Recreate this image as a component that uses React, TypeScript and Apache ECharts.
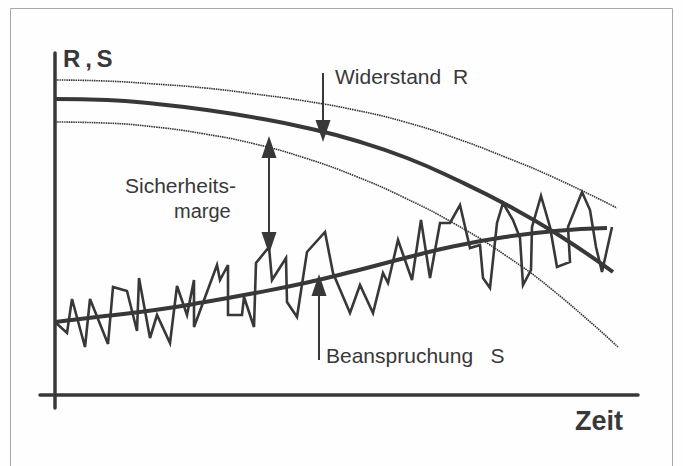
import React, { useEffect, useRef } from "react";
import * as echarts from "echarts";

// x = time (arbitrary units), y = R,S (arbitrary units)
const noisyS: [number, number][] = [
  [0, 73], [12, 62], [17, 96], [30, 48], [35, 96], [53, 51], [58, 108], [72, 104],
  [82, 64], [84, 117], [95, 57], [102, 80], [115, 52], [122, 109], [132, 80], [139, 115],
  [139, 68], [162, 130], [165, 115], [173, 130], [173, 80], [187, 80], [189, 98], [199, 68],
  [201, 132], [214, 148], [217, 115], [231, 137], [232, 93], [242, 78], [252, 143], [270, 163],
  [278, 122], [295, 82], [305, 110], [318, 82], [328, 122], [333, 112], [343, 155], [357, 115],
  [366, 175], [375, 117], [385, 172], [395, 172], [405, 190], [415, 147], [425, 150], [428, 117],
  [435, 107], [442, 172], [448, 192], [458, 175], [465, 157], [468, 110], [476, 125], [477, 168],
  [486, 199], [495, 168], [502, 128], [515, 133], [513, 168], [527, 203], [535, 185], [541, 148],
  [547, 123], [557, 168],
];

const meanS: [number, number][] = [
  [0, 73], [50, 79], [100, 85], [150, 93], [200, 102], [250, 112], [300, 124],
  [350, 137], [400, 149], [450, 158], [500, 164], [552, 167],
];

const resistanceR: [number, number][] = [
  [0, 296], [52, 295], [102, 291], [152, 285], [202, 277], [252, 267], [302, 254],
  [352, 237], [402, 215], [452, 190], [502, 161], [558, 123],
];

const upperBand: [number, number][] = [
  [0, 315], [50, 314], [100, 311], [150, 307], [200, 301], [250, 294], [300, 285],
  [350, 273], [400, 257], [450, 238], [500, 217], [562, 187],
];

const lowerBand: [number, number][] = [
  [0, 273], [50, 272], [100, 268], [150, 261], [200, 251], [250, 237], [300, 219],
  [350, 197], [400, 171], [450, 140], [500, 103], [563, 48],
];

// arrows: [x, yStart, yEnd]
const arrowR: [number, number, number] = [268, 322, 264];
const arrowMargin: [number, number, number] = [214, 248, 152];
const arrowS: [number, number, number] = [264, 35, 110];

const INK = "#383838";

export default function App() {
  const ref = useRef<HTMLDivElement>(null);
  useEffect(() => {
    if (!ref.current) return;
    const chart = echarts.init(ref.current, undefined, { renderer: "svg" });
    const font = "'Liberation Sans', Arial, Helvetica, sans-serif";
    const band = (data: [number, number][]) => ({
      type: "line",
      data,
      smooth: true,
      showSymbol: false,
      silent: true,
      lineStyle: { color: "#333", width: 1.6, type: [1.5, 0.8] },
      z: 1,
    });
    chart.setOption({
      animation: false,
      backgroundColor: "#fefefe",
      grid: { left: 40, right: 45, top: 53, bottom: 58 },
      xAxis: {
        type: "value",
        min: -15,
        max: 583,
        axisLine: { show: true, onZero: true, lineStyle: { color: INK, width: 3.5 } },
        axisTick: { show: false },
        axisLabel: { show: false },
        splitLine: { show: false },
      },
      yAxis: {
        type: "value",
        min: -13,
        max: 342,
        axisLine: { show: true, onZero: true, lineStyle: { color: INK, width: 3.5 } },
        axisTick: { show: false },
        axisLabel: { show: false },
        splitLine: { show: false },
      },
      series: [
        band(upperBand),
        band(lowerBand),
        {
          type: "line",
          data: noisyS,
          showSymbol: false,
          silent: true,
          lineStyle: { color: INK, width: 2.6, join: "miter" },
          z: 2,
          markLine: {
            silent: true,
            symbolSize: [15, 22],
            label: { show: false },
            lineStyle: { color: INK, width: 2, type: "solid" },
            data: [
              [
                { coord: [arrowR[0], arrowR[1]], symbol: "none" },
                { coord: [arrowR[0], arrowR[2]], symbol: "triangle" },
              ],
              [
                { coord: [arrowMargin[0], arrowMargin[1]], symbol: "triangle" },
                { coord: [arrowMargin[0], arrowMargin[2]], symbol: "triangle" },
              ],
              [
                { coord: [arrowS[0], arrowS[1]], symbol: "none" },
                { coord: [arrowS[0], arrowS[2]], symbol: "triangle" },
              ],
            ],
          },
        },
        {
          type: "line",
          data: meanS,
          smooth: true,
          showSymbol: false,
          silent: true,
          lineStyle: { color: INK, width: 4 },
          z: 3,
        },
        {
          type: "line",
          data: resistanceR,
          smooth: true,
          showSymbol: false,
          silent: true,
          lineStyle: { color: INK, width: 4 },
          z: 3,
        },
      ],
      graphic: [
        {
          type: "rect",
          shape: { x: 10.5, y: 8.5, width: 662, height: 470 },
          style: { fill: "none", stroke: "#a8a8a8", lineWidth: 1 },
          silent: true,
        },
        {
          type: "text",
          x: 63,
          y: 58.5,
          style: { text: "R\u2009,\u2009S", font: `bold 24px ${font}`, fill: INK, verticalAlign: "middle" },
        },
        {
          type: "text",
          x: 335,
          y: 76.5,
          style: { text: "Widerstand\u00a0\u00a0R", font: `21px ${font}`, fill: INK, verticalAlign: "middle" },
        },
        {
          type: "text",
          x: 125,
          y: 185.5,
          style: { text: "Sicherheits-", font: `21px ${font}`, fill: INK, verticalAlign: "middle" },
        },
        {
          type: "text",
          x: 174,
          y: 210.5,
          style: { text: "marge", font: `20px ${font}`, fill: INK, verticalAlign: "middle" },
        },
        {
          type: "text",
          x: 326,
          y: 355.5,
          style: { text: "Beanspruchung\u00a0\u00a0\u00a0S", font: `21px ${font}`, fill: INK, verticalAlign: "middle" },
        },
        {
          type: "text",
          x: 575,
          y: 421,
          style: { text: "Zeit", font: `bold 27px ${font}`, fill: INK, verticalAlign: "middle" },
        },
      ],
    });
    return () => chart.dispose();
  }, []);
  return (
    <div
      ref={ref}
      style={{ position: "fixed", left: 0, top: 0, width: 683, height: 466 }}
    />
  );
}
